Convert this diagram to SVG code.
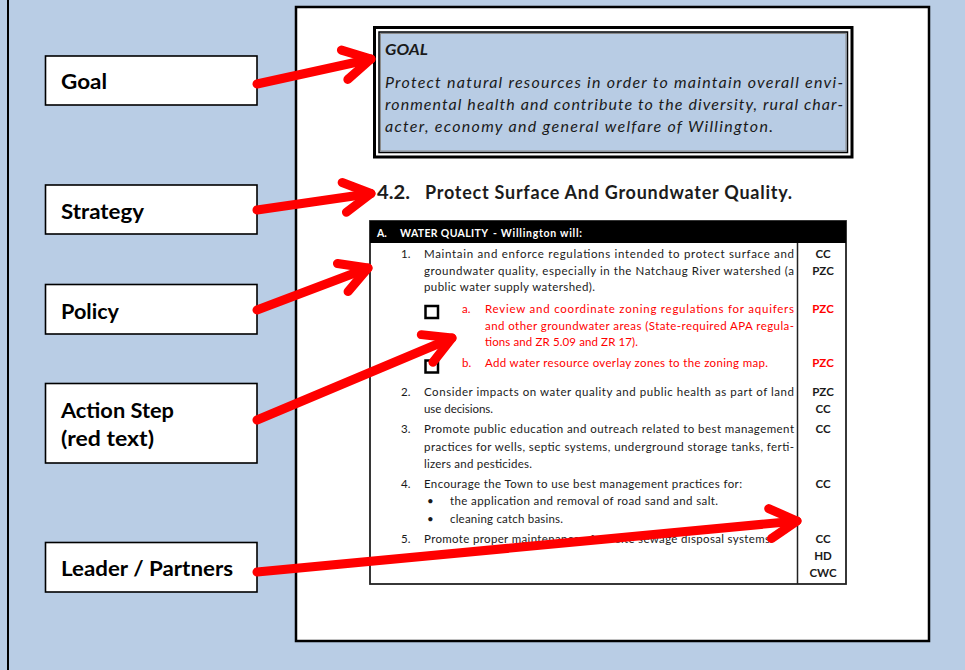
<svg xmlns="http://www.w3.org/2000/svg" width="965" height="670" viewBox="0 0 965 670">
<style>
.lbl{fill:#fff;stroke:#000;stroke-width:1.6}
.lt{font-family:Lato,"Liberation Sans",sans-serif;font-weight:700;font-size:21px;fill:#000}
.gt{font-family:Lato,"Liberation Sans",sans-serif;font-style:italic;font-size:16px;fill:#1a1a1a}
.hd{font-family:Lato,"Liberation Sans",sans-serif;font-weight:700;font-size:18px;fill:#1c1c1c}
.th{font-family:Lato,"Liberation Sans",sans-serif;font-weight:700;font-size:10.5px;fill:#fff}
.b{font-family:Lato,"Liberation Sans",sans-serif;font-size:11.5px;fill:#1a1a1a}
.r{fill:#ff0000}
.c{font-weight:700;text-anchor:middle}
.arrow{stroke:#ff0000;stroke-width:9;stroke-linecap:round;fill:none;marker-end:url(#head)}
</style>
<defs>
<marker id="head" markerUnits="userSpaceOnUse" orient="auto" overflow="visible" markerWidth="1" markerHeight="1" refX="0" refY="0">
<path d="M-27,-15 L0,0 L-27,15" fill="none" stroke="#ff0000" stroke-width="9" stroke-linecap="round" stroke-linejoin="round"/>
</marker>
</defs>
<rect x="0" y="0" width="965" height="670" fill="#b9cde5"/>
<line x1="8" y1="0" x2="8" y2="670" stroke="#000" stroke-width="2"/>

<g id="page">
<rect x="296" y="7" width="633" height="634" fill="#fff" stroke="#000" stroke-width="2.5"/>
</g>

<g id="goal-box">
<rect x="374.5" y="27.5" width="477.5" height="129.5" fill="#fff" stroke="#000" stroke-width="3"/>
<rect x="379" y="32" width="468.5" height="120.5" fill="#b8cce4" stroke="#000" stroke-width="1.5"/>
<rect x="380.5" y="33.5" width="465.5" height="117.5" fill="none" stroke="#8a8a8a" stroke-width="1"/>
<text class="gt" x="385" y="55" font-weight="700" textLength="43" lengthAdjust="spacingAndGlyphs">GOAL</text>
<text class="gt" x="385" y="88" textLength="458" lengthAdjust="spacing">Protect natural resources in order to maintain overall envi-</text>
<text class="gt" x="385" y="110" textLength="458" lengthAdjust="spacing">ronmental health and contribute to the diversity, rural char-</text>
<text class="gt" x="385" y="132" textLength="388" lengthAdjust="spacing">acter, economy and general welfare of Willington.</text>
</g>

<g id="strategy-heading">
<text class="hd" x="377" y="199" textLength="33" lengthAdjust="spacingAndGlyphs">4.2.</text>
<text class="hd" x="425" y="199" textLength="367" lengthAdjust="spacing">Protect Surface And Groundwater Quality.</text>
</g>

<g id="policy-table">
<rect x="370" y="221" width="476" height="363" fill="#fff" stroke="#222" stroke-width="1.8"/>
<rect x="370" y="221" width="476" height="22" fill="#000"/>
<line x1="797.5" y1="243" x2="797.5" y2="584" stroke="#222" stroke-width="1.5"/>
<text class="th" x="377" y="237">A.</text>
<text class="th" x="400" y="237" textLength="88" lengthAdjust="spacing">WATER QUALITY</text>
<text class="th" x="493" y="237" textLength="89" lengthAdjust="spacing">- Willington will:</text>

<text class="b" x="401" y="258">1.</text>
<text class="b" x="424" y="258" textLength="370" lengthAdjust="spacing">Maintain and enforce regulations intended to protect surface and</text>
<text class="b" x="424" y="275" textLength="370" lengthAdjust="spacing">groundwater quality, especially in the Natchaug River watershed (a</text>
<text class="b" x="424" y="291" textLength="171" lengthAdjust="spacing">public water supply watershed).</text>
<text class="b c" x="823" y="258">CC</text>
<text class="b c" x="823" y="275">PZC</text>

<rect x="425.5" y="306" width="12.5" height="12" fill="#fff" stroke="#000" stroke-width="2.5"/>
<text class="b r" x="462" y="313">a.</text>
<text class="b r" x="485" y="313" textLength="309" lengthAdjust="spacing">Review and coordinate zoning regulations for aquifers</text>
<text class="b r" x="485" y="330" textLength="309" lengthAdjust="spacing">and other groundwater areas (State-required APA regula-</text>
<text class="b r" x="485" y="346" textLength="153" lengthAdjust="spacing">tions and ZR 5.09 and ZR 17).</text>
<text class="b r c" x="823" y="313">PZC</text>

<rect x="425.5" y="360.5" width="12.5" height="12" fill="#fff" stroke="#000" stroke-width="2.5"/>
<text class="b r" x="462" y="367">b.</text>
<text class="b r" x="485" y="367" textLength="283" lengthAdjust="spacing">Add water resource overlay zones to the zoning map.</text>
<text class="b r c" x="823" y="367">PZC</text>

<text class="b" x="401" y="395.5">2.</text>
<text class="b" x="424" y="395.5" textLength="370" lengthAdjust="spacing">Consider impacts on water quality and public health as part of land</text>
<text class="b" x="424" y="412.5" textLength="69" lengthAdjust="spacing">use decisions.</text>
<text class="b c" x="823" y="395.5">PZC</text>
<text class="b c" x="823" y="413">CC</text>

<text class="b" x="401" y="433">3.</text>
<text class="b" x="424" y="433" textLength="370" lengthAdjust="spacing">Promote public education and outreach related to best management</text>
<text class="b" x="424" y="450.5" textLength="370" lengthAdjust="spacing">practices for wells, septic systems, underground storage tanks, ferti-</text>
<text class="b" x="424" y="467.5" textLength="108" lengthAdjust="spacing">lizers and pesticides.</text>
<text class="b c" x="823" y="433">CC</text>

<text class="b" x="401" y="487.5">4.</text>
<text class="b" x="424" y="487.5" textLength="318" lengthAdjust="spacing">Encourage the Town to use best management practices for:</text>
<text class="b c" x="823" y="488">CC</text>
<text class="b" x="427" y="505">•</text>
<text class="b" x="450" y="505" textLength="268" lengthAdjust="spacing">the application and removal of road sand and salt.</text>
<text class="b" x="427" y="522.5">•</text>
<text class="b" x="450" y="522.5" textLength="113" lengthAdjust="spacing">cleaning catch basins.</text>

<text class="b" x="401" y="543">5.</text>
<text class="b" x="424" y="543" textLength="349" lengthAdjust="spacing">Promote proper maintenance of on-site sewage disposal systems.</text>
<text class="b c" x="823" y="543">CC</text>
<text class="b c" x="823" y="560">HD</text>
<text class="b c" x="823" y="577">CWC</text>
</g>

<g id="label-goal">
<rect class="lbl" x="45.5" y="56" width="211.5" height="49"/>
<text class="lt" x="61" y="89" textLength="46" lengthAdjust="spacingAndGlyphs">Goal</text>
</g>
<g id="label-strategy">
<rect class="lbl" x="45.5" y="185" width="211.5" height="49"/>
<text class="lt" x="61" y="219" textLength="83" lengthAdjust="spacingAndGlyphs">Strategy</text>
</g>
<g id="label-policy">
<rect class="lbl" x="45.5" y="284.5" width="211.5" height="49.5"/>
<text class="lt" x="61" y="319" textLength="58" lengthAdjust="spacingAndGlyphs">Policy</text>
</g>
<g id="label-action">
<rect class="lbl" x="45.5" y="383.5" width="211.5" height="79.5"/>
<text class="lt" x="61" y="418" textLength="113" lengthAdjust="spacingAndGlyphs">Action Step</text>
<text class="lt" x="61" y="446" textLength="93" lengthAdjust="spacingAndGlyphs">(red text)</text>
</g>
<g id="label-leader">
<rect class="lbl" x="45.5" y="542.5" width="211.5" height="49.5"/>
<text class="lt" x="61" y="576" textLength="172" lengthAdjust="spacingAndGlyphs">Leader / Partners</text>
</g>

<g id="connectors">
<line class="arrow" x1="257" y1="84" x2="371" y2="59"/>
<line class="arrow" x1="257" y1="210" x2="371" y2="193.5"/>
<line class="arrow" x1="257" y1="310" x2="368" y2="268"/>
<line class="arrow" x1="257" y1="420" x2="452" y2="338"/>
<line class="arrow" x1="257" y1="572" x2="797" y2="521"/>
</g>
</svg>
